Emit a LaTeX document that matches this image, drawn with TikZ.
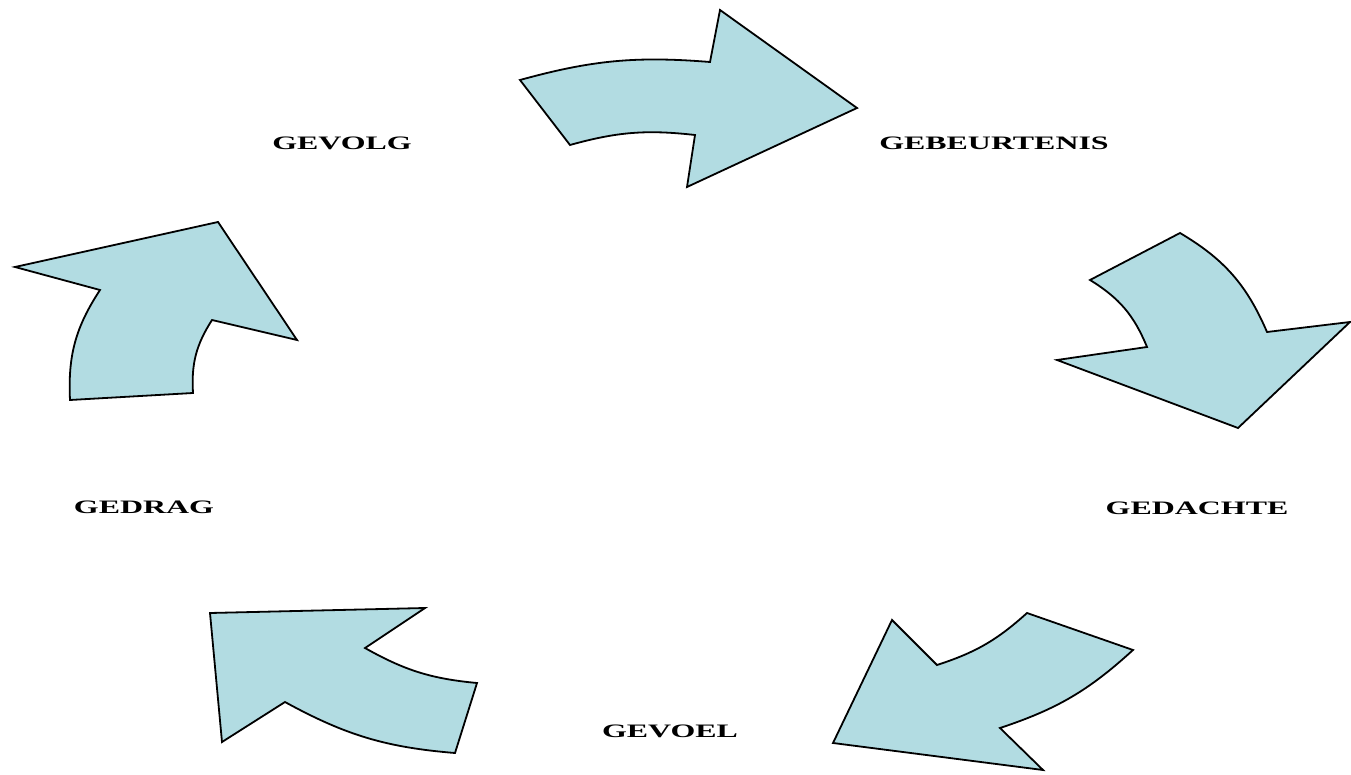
\documentclass[tikz,border=0pt]{standalone}
\usepackage{fontspec}
\setmainfont{Liberation Serif}
\usepackage{graphicx}
\definecolor{arrowfill}{RGB}{178,220,226}
\tikzset{
  arrowshape/.style={draw=black, fill=arrowfill, line width=1.8pt, line join=miter},
  lbl/.style={inner sep=0pt, font=\fontsize{19}{19}\selectfont\bfseries}
}
\newcommand{\wide}[1]{\scalebox{1.68}[1]{#1}}
\begin{document}
\begin{tikzpicture}[x=1pt,y=-1pt]
\useasboundingbox (0,0) rectangle (1351,775);
% top arrow
\draw[arrowshape] (520,80) to[bend left=10] (710,62) -- (720,10) -- (857,108)
  -- (687,187) -- (695,135) to[bend right=11] (570,145) -- cycle;
% right arrow
\draw[arrowshape] (1180,233) to[bend left=18] (1267,332) -- (1350,322) -- (1238,428)
  -- (1057,360) -- (1147,347) to[bend right=18] (1090,280) -- cycle;
% bottom right arrow
\draw[arrowshape] (1027,613) -- (1133,650) to[bend left=12] (1000,728) -- (1043,770)
  -- (833,743) -- (892,620) -- (937,665) to[bend right=12] cycle;
% bottom left arrow
\draw[arrowshape] (477,683) -- (455,753) to[bend left=12] (285,702) -- (222,742)
  -- (210,613) -- (425,608) -- (365,648) to[bend right=12] cycle;
% left arrow
\draw[arrowshape] (70,400) -- (193,393) to[bend left=18] (212,320) -- (297,340)
  -- (218,222) -- (15,267) -- (100,290) to[bend right=18] cycle;
% labels
\node[lbl] (gevolg) at (342,143) {\wide{GEVOLG}};
\node[lbl] (gebeurtenis) at (994,143) {\wide{GEBEURTENIS}};
\node[lbl] (gedrag) at (144,507) {\wide{GEDRAG}};
\node[lbl] (gedachte) at (1197,508) {\wide{GEDACHTE}};
\node[lbl] (gevoel) at (670,731) {\wide{GEVOEL}};
\end{tikzpicture}
\end{document}
